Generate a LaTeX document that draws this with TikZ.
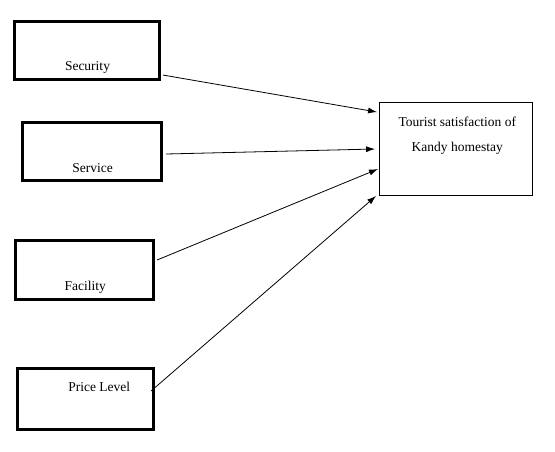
\documentclass[tikz,border=0pt]{standalone}
\usepackage{fontspec}
\setmainfont{Liberation Serif}
\usepackage{tikz}
\usetikzlibrary{calc}
\usetikzlibrary{arrows.meta}
\tikzset{var box/.style={draw, line width=2.6pt, inner sep=0pt},
         out box/.style={draw, line width=1.4pt, inner sep=0pt},
         box text/.style={anchor=base, inner sep=0pt, font=\fontsize{13.5}{25}\selectfont},
         link/.style={line width=0.8pt, -{Latex[length=9pt,width=6pt]}}}

\begin{document}
\begin{tikzpicture}[x=1pt,y=-1pt]
   \useasboundingbox (0,0) rectangle (555,451);
   % the four factors on the left, drawn as empty boxes with the text put low in them
   \node (security) [var box, minimum width=145.5pt, minimum height=58.5pt] at (87,50.5) {};
   \node (service)  [var box, minimum width=139.5pt, minimum height=58.5pt] at (92,151.5) {};
   \node (facility) [var box, minimum width=138.5pt, minimum height=59.5pt] at (84.5,270) {};
   \node (price)    [var box, minimum width=136.5pt, minimum height=61.5pt] at (85.5,399) {};

   \node (security-txt) [box text] at (87.5,70.7) {Security};
   \node (service-txt)  [box text] at (92.7,172) {Service};
   \node (facility-txt) [box text] at (85.2,290) {Facility};
   \node (price-txt)    [box text] at (99.3,391.7) {Price Level};

   % the outcome
   \node (target) [out box, minimum width=152.5pt, minimum height=92.5pt] at (456,149) {};
   \node (target-txt) [box text, align=center, anchor=north] at (457.3,117) {Tourist satisfaction of\\Kandy homestay};

   %TODO the ends are set by hand so that they stand off the boxes a little
   \draw [link] ($(security.south east) + (2,-6)$) to ($(target.north west) + (-2,10)$);
   \draw [link] ($(service.east) + (3,2.5)$) to ($(target.west) + (-4,0)$);
   \draw [link] ($(facility.east) + (2,-10)$) to ($(target.west) + (-1,20)$);
   \draw [link] ($(price.east) + (-4,-8)$) to ($(target.south west) + (-3,0)$);
\end{tikzpicture}
\end{document}
